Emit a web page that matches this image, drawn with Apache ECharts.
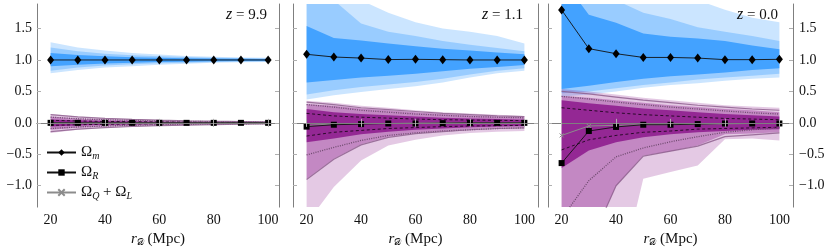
<!DOCTYPE html>
<html>
<head>
<meta charset="utf-8">
<script src="https://cdn.jsdelivr.net/npm/echarts@6/dist/echarts.min.js"></script>
<style>html,body{margin:0;padding:0;background:#fff}#c{width:830px;height:252px}</style>
</head>
<body>
<div id="c"></div>
<script>
// ---------- data ----------
const rD = [20, 30, 40, 50, 60, 70, 80, 90, 100];
const xTicks = [20, 40, 60, 80, 100];
const yTicks = [-1.0, -0.5, 0.0, 0.5, 1.0, 1.5];
const zLabels = ['9.9', '1.1', '0.0'];

// panel z = 9.9
const a_Om   = [1.0, 1.0, 1.0, 1.0, 1.0, 1.0, 1.0, 1.0, 1.0];
const a_OR   = [0.0, 0.0, 0.0, 0.0, 0.0, 0.0, 0.0, 0.0, 0.0];
const a_OQL  = [0.0, 0.0, 0.0, 0.0, 0.0, 0.0, 0.0, 0.0, 0.0];
const a_m3hi = [1.28, 1.20, 1.15, 1.11, 1.085, 1.065, 1.05, 1.04, 1.035];
const a_m3lo = [0.79, 0.84, 0.88, 0.90, 0.925, 0.94, 0.955, 0.962, 0.968];
const a_m2hi = [1.20, 1.14, 1.10, 1.075, 1.058, 1.046, 1.036, 1.03, 1.025];
const a_m2lo = [0.83, 0.88, 0.91, 0.93, 0.947, 0.957, 0.966, 0.972, 0.977];
const a_m1hi = [1.11, 1.08, 1.06, 1.045, 1.035, 1.028, 1.022, 1.018, 1.015];
const a_m1lo = [0.90, 0.925, 0.945, 0.957, 0.966, 0.973, 0.978, 0.982, 0.985];
const a_R3hi = [0.14, 0.10, 0.075, 0.06, 0.045, 0.035, 0.028, 0.022, 0.018];
const a_R3lo = [-0.16, -0.11, -0.08, -0.062, -0.047, -0.037, -0.03, -0.024, -0.02];
const a_R2hi = [0.10, 0.07, 0.053, 0.042, 0.032, 0.025, 0.02, 0.016, 0.013];
const a_R2lo = [-0.11, -0.078, -0.057, -0.045, -0.034, -0.027, -0.021, -0.017, -0.014];
const a_R1hi = [0.055, 0.04, 0.03, 0.024, 0.018, 0.014, 0.011, 0.009, 0.007];
const a_R1lo = [-0.06, -0.042, -0.032, -0.025, -0.019, -0.015, -0.012, -0.01, -0.008];
const a_Q1hi = [0.04, 0.03, 0.022, 0.018, 0.014, 0.011, 0.009, 0.007, 0.006];
const a_Q1lo = [-0.04, -0.03, -0.022, -0.018, -0.014, -0.011, -0.009, -0.007, -0.006];
const a_Q2hi = [0.09, 0.065, 0.05, 0.04, 0.03, 0.024, 0.019, 0.015, 0.012];
const a_Q2lo = [-0.09, -0.065, -0.05, -0.04, -0.03, -0.024, -0.019, -0.015, -0.012];
const a_Q3hi = [0.13, 0.095, 0.07, 0.055, 0.042, 0.033, 0.026, 0.02, 0.016];
const a_Q3lo = [-0.14, -0.1, -0.075, -0.058, -0.044, -0.035, -0.028, -0.022, -0.018];

// panel z = 1.1
const b_Om   = [1.09, 1.047, 1.03, 1.006, 1.01, 1.005, 1.0, 1.0, 1.0];
const b_OR   = [-0.06, -0.03, -0.02, -0.01, -0.01, -0.005, 0.0, 0.0, 0.0];
const b_OQL  = [-0.04, -0.02, -0.01, -0.01, -0.005, 0.0, 0.0, 0.0, 0.0];
const b_m3hi = [1.95, 1.95, 1.95, 1.75, 1.60, 1.50, 1.45, 1.38, 1.26];
const b_m3lo = [0.37, 0.44, 0.49, 0.54, 0.58, 0.64, 0.72, 0.79, 0.83];
const b_m2hi = [1.95, 1.95, 1.58, 1.45, 1.38, 1.30, 1.24, 1.19, 1.14];
const b_m2lo = [0.45, 0.52, 0.57, 0.61, 0.65, 0.70, 0.77, 0.83, 0.87];
const b_m1hi = [1.54, 1.35, 1.31, 1.26, 1.22, 1.18, 1.15, 1.12, 1.09];
const b_m1lo = [0.64, 0.68, 0.72, 0.75, 0.78, 0.82, 0.86, 0.89, 0.92];
const b_R3hi = [0.35, 0.32, 0.27, 0.24, 0.20, 0.17, 0.15, 0.13, 0.11];
const b_R3lo = [-1.6, -1.02, -0.60, -0.36, -0.27, -0.20, -0.16, -0.14, -0.13];
const b_R2hi = [0.30, 0.27, 0.23, 0.20, 0.17, 0.14, 0.12, 0.10, 0.09];
const b_R2lo = [-0.89, -0.57, -0.34, -0.22, -0.16, -0.13, -0.10, -0.08, -0.07];
const b_R1hi = [0.22, 0.17, 0.14, 0.12, 0.10, 0.08, 0.07, 0.06, 0.05];
const b_R1lo = [-0.31, -0.25, -0.18, -0.14, -0.11, -0.09, -0.07, -0.06, -0.05];
const b_Q1hi = [0.15, 0.11, 0.09, 0.075, 0.06, 0.05, 0.045, 0.04, 0.035];
const b_Q1lo = [-0.21, -0.15, -0.12, -0.09, -0.075, -0.06, -0.05, -0.045, -0.04];
const b_Q2hi = [0.29, 0.25, 0.20, 0.17, 0.14, 0.12, 0.10, 0.09, 0.08];
const b_Q2lo = [-0.51, -0.39, -0.28, -0.20, -0.16, -0.13, -0.11, -0.09, -0.08];
const b_Q3hi = [0.33, 0.29, 0.24, 0.21, 0.18, 0.15, 0.13, 0.11, 0.10];
const b_Q3lo = [-0.90, -0.58, -0.35, -0.23, -0.17, -0.14, -0.11, -0.09, -0.08];

// panel z = 0.0
const c_Om   = [1.795, 1.18, 1.10, 1.04, 1.04, 1.03, 1.005, 1.005, 1.01];
const c_OR   = [-0.64, -0.13, -0.065, -0.03, -0.03, -0.02, -0.01, -0.01, -0.01];
const c_OQL  = [-0.20, -0.05, -0.04, -0.03, -0.03, -0.02, -0.015, -0.01, -0.01];
const c_m3hi = [2.5, 2.5, 2.5, 2.3, 2.1, 1.95, 1.80, 1.67, 1.60];
const c_m3lo = [0.42, 0.45, 0.50, 0.56, 0.60, 0.63, 0.67, 0.70, 0.72];
const c_m2hi = [2.5, 2.3, 1.95, 1.75, 1.65, 1.52, 1.45, 1.38, 1.30];
const c_m2lo = [0.47, 0.50, 0.55, 0.60, 0.64, 0.69, 0.72, 0.75, 0.78];
const c_m1hi = [2.3, 1.72, 1.59, 1.42, 1.37, 1.34, 1.30, 1.23, 1.17];
const c_m1lo = [0.54, 0.59, 0.65, 0.70, 0.74, 0.77, 0.80, 0.84, 0.87];
const c_R3hi = [0.54, 0.50, 0.45, 0.40, 0.36, 0.32, 0.28, 0.26, 0.24];
const c_R3lo = [-3.0, -2.9, -2.7, -0.89, -0.78, -0.68, -0.26, -0.25, -0.28];
const c_R2hi = [0.43, 0.40, 0.36, 0.32, 0.28, 0.25, 0.22, 0.20, 0.17];
const c_R2lo = [-3.0, -1.97, -1.0, -0.52, -0.45, -0.36, -0.18, -0.17, -0.15];
const c_R1hi = [0.36, 0.31, 0.27, 0.23, 0.20, 0.17, 0.14, 0.12, 0.10];
const c_R1lo = [-0.72, -0.44, -0.31, -0.23, -0.18, -0.15, -0.13, -0.11, -0.10];
const c_Q1hi = [0.24, 0.20, 0.16, 0.13, 0.11, 0.09, 0.07, 0.06, 0.05];
const c_Q1lo = [-0.43, -0.27, -0.20, -0.15, -0.13, -0.10, -0.09, -0.08, -0.07];
const c_Q2hi = [0.42, 0.38, 0.33, 0.29, 0.25, 0.22, 0.19, 0.16, 0.14];
const c_Q2lo = [-1.52, -0.92, -0.54, -0.40, -0.30, -0.22, -0.15, -0.11, -0.08];
const c_Q3hi = [0.50, 0.46, 0.41, 0.36, 0.32, 0.28, 0.25, 0.22, 0.20];
const c_Q3lo = [-3.0, -1.97, -1.0, -0.53, -0.45, -0.37, -0.22, -0.19, -0.16];

// ---------- styling ----------
const FONT = 'Liberation Serif';
const panels = [
  {left: 37, width: 242, xmax: 104, zl: zLabels[0], zr: 563,
   Om: a_Om, OR: a_OR, OQL: a_OQL,
   m: [[a_m3lo, a_m3hi], [a_m2lo, a_m2hi], [a_m1lo, a_m1hi]],
   R: [[a_R3lo, a_R3hi], [a_R2lo, a_R2hi], [a_R1lo, a_R1hi]],
   Q: [[a_Q1lo, a_Q1hi], [a_Q2lo, a_Q2hi], [a_Q3lo, a_Q3hi]]},
  {left: 293, width: 245, xmax: 105, zl: zLabels[1], zr: 307,
   Om: b_Om, OR: b_OR, OQL: b_OQL,
   m: [[b_m3lo, b_m3hi], [b_m2lo, b_m2hi], [b_m1lo, b_m1hi]],
   R: [[b_R3lo, b_R3hi], [b_R2lo, b_R2hi], [b_R1lo, b_R1hi]],
   Q: [[b_Q1lo, b_Q1hi], [b_Q2lo, b_Q2hi], [b_Q3lo, b_Q3hi]]},
  {left: 548, width: 245, xmax: 105, zl: zLabels[2], zr: 52,
   Om: c_Om, OR: c_OR, OQL: c_OQL,
   m: [[c_m3lo, c_m3hi], [c_m2lo, c_m2hi], [c_m1lo, c_m1hi]],
   R: [[c_R3lo, c_R3hi], [c_R2lo, c_R2hi], [c_R1lo, c_R1hi]],
   Q: [[c_Q1lo, c_Q1hi], [c_Q2lo, c_Q2hi], [c_Q3lo, c_Q3hi]]}
];
const blueCols = ['rgba(30,144,255,0.23)', 'rgba(30,144,255,0.29)', 'rgba(30,144,255,0.70)'];
const purpCols = ['rgba(128,0,128,0.21)', 'rgba(128,0,128,0.32)', 'rgba(128,0,128,0.70)'];
const YMIN = -1.34, YMAX = 1.89;

const fmtY = v => (v < 0 ? '\u2212' : '') + Math.abs(v).toFixed(1);

const grids = [], xAxes = [], yAxes = [], series = [], titles = [];
const axLine = {show: true, lineStyle: {color: '#7f7f7f', width: 1}};
const tickSt = {show: true, inside: true, length: 4, lineStyle: {color: '#b0b0b0', width: 1}};

// band polygon drawn from the data via the coordinate system
function bandRender(params, api) {
  if (params.dataIndexInside !== 0) return null;
  const n = params.dataInsideLength;
  const top = [], bot = [];
  for (let j = 0; j < n; j++) {
    const x = api.value(0, j);
    top.push(api.coord([x, api.value(2, j)]));
    bot.push(api.coord([x, api.value(1, j)]));
  }
  const cs = params.coordSys;
  return {
    type: 'polygon',
    shape: {points: top.concat(bot.reverse())},
    style: {fill: api.visual('color')},
    clipPath: {type: 'rect', shape: {x: cs.x, y: cs.y, width: cs.width, height: cs.height}},
    silent: true
  };
}

panels.forEach((p, g) => {
  grids.push({left: p.left, top: 4, width: p.width, height: 205});
  const xi = g * 2, yi = g * 2;
  xAxes.push({
    gridIndex: g, type: 'value', min: 15, max: p.xmax, position: 'bottom', z: 10,
    axisLine: axLine, splitLine: {show: false},
    axisTick: Object.assign({customValues: xTicks}, tickSt),
    axisLabel: {customValues: xTicks, margin: 6, fontFamily: FONT, fontSize: 14, color: '#111'},
    name: '{r|r}{d|\uD835\uDC9F}{t| (Mpc)}', nameLocation: 'middle', nameGap: 24,
    nameTextStyle: {fontFamily: FONT, fontSize: 15, color: '#111', rich: {
      r: {fontFamily: FONT, fontSize: 15, fontStyle: 'italic', color: '#111'},
      d: {fontFamily: 'DejaVu Sans', fontSize: 9, color: '#111', padding: [6, 0, 0, 0]},
      t: {fontFamily: FONT, fontSize: 15, color: '#111'}
    }}
  });
  xAxes.push({
    gridIndex: g, type: 'value', min: 15, max: p.xmax, position: 'top', z: 10,
    axisLine: axLine, splitLine: {show: false},
    axisTick: Object.assign({customValues: xTicks}, tickSt),
    axisLabel: {show: false, customValues: xTicks}
  });
  yAxes.push({
    gridIndex: g, type: 'value', min: YMIN, max: YMAX, position: 'left', z: 10,
    axisLine: axLine, splitLine: {show: false},
    axisTick: Object.assign({customValues: yTicks}, tickSt),
    axisLabel: {show: g === 0, customValues: yTicks, formatter: fmtY, margin: 5,
      fontFamily: FONT, fontSize: 14, color: '#111'}
  });
  yAxes.push({
    gridIndex: g, type: 'value', min: YMIN, max: YMAX, position: 'right', z: 10,
    axisLine: axLine, splitLine: {show: false},
    axisTick: Object.assign({customValues: yTicks}, tickSt),
    axisLabel: {show: g === 2, customValues: yTicks, formatter: fmtY, margin: 6,
      fontFamily: FONT, fontSize: 14, color: '#111'}
  });

  const band = (id, lo, hi, color) => series.push({
    type: 'custom', name: id, xAxisIndex: xi, yAxisIndex: yi, silent: true, animation: false,
    renderItem: bandRender, itemStyle: {color: color},
    encode: {x: 0, y: [1, 2]},
    data: rD.map((x, i) => [x, lo[i], hi[i]])
  });
  p.m.forEach((b, k) => band('m' + g + k, b[0], b[1], blueCols[k]));
  p.R.forEach((b, k) => band('R' + g + k, b[0], b[1], purpCols[k]));

  const qline = (id, arr, style) => series.push({
    type: 'line', name: id, xAxisIndex: xi, yAxisIndex: yi, symbol: 'none', silent: true,
    animation: false, clip: true, data: rD.map((x, i) => [x, arr[i]]), lineStyle: style
  });
  const qStyles = [
    {color: '#2a0a2a', width: 1, type: [3, 2.5]},
    {color: '#6e4a6e', width: 1.3, type: [1, 1.3]},
    {color: '#8a5a8a', width: 1.2, type: 'solid', opacity: 0.8}
  ];
  p.Q.forEach((b, k) => { qline('q' + g + k + 'lo', b[0], qStyles[k]); qline('q' + g + k + 'hi', b[1], qStyles[k]); });

  const suf = g === 0 ? '' : '_' + g;
  series.push({type: 'line', name: '\u03A9Q+\u03A9L' + suf, xAxisIndex: xi, yAxisIndex: yi, animation: false,
    data: rD.map((x, i) => [x, p.OQL[i]]), symbol: 'path://M0,0L10,10M10,0L0,10', symbolSize: 4,
    lineStyle: {color: '#8c8c8c', width: 1}, itemStyle: {color: 'rgba(0,0,0,0)', borderColor: '#8c8c8c', borderWidth: 1}});
  series.push({type: 'line', name: '\u03A9R' + suf, xAxisIndex: xi, yAxisIndex: yi, animation: false,
    data: rD.map((x, i) => [x, p.OR[i]]), symbol: 'rect', symbolSize: 6,
    lineStyle: {color: '#111', width: 0.9}, itemStyle: {color: '#000'}});
  series.push({type: 'line', name: '\u03A9m' + suf, xAxisIndex: xi, yAxisIndex: yi, animation: false,
    data: rD.map((x, i) => [x, p.Om[i]]), symbol: 'diamond', symbolSize: [7, 9],
    lineStyle: {color: '#111', width: 0.9}, itemStyle: {color: '#000'}});

  titles.push({text: '{z|z}{e| = }{v|' + p.zl + '}', right: p.zr, top: 7, padding: 0,
    textStyle: {fontWeight: 'normal', rich: {
      z: {fontFamily: FONT, fontSize: 16, fontStyle: 'italic', fontWeight: 'normal', color: '#111'},
      e: {fontFamily: FONT, fontSize: 15, fontWeight: 'normal', color: '#111'},
      v: {fontFamily: FONT, fontSize: 15, fontWeight: 'normal', color: '#111'}
    }}});
});

const legendNames = {
  '\u03A9m': '{o|\u03A9}{s|m}',
  '\u03A9R': '{o|\u03A9}{s|R}',
  '\u03A9Q+\u03A9L': '{o|\u03A9}{s|Q}{o| + \u03A9}{s|L}'
};

const option = {
  animation: false,
  backgroundColor: '#fff',
  title: titles,
  grid: grids,
  xAxis: xAxes,
  yAxis: yAxes,
  legend: {
    data: ['\u03A9m', '\u03A9R', '\u03A9Q+\u03A9L'],
    orient: 'vertical', left: 46, top: 144, itemWidth: 29, itemHeight: 8, itemGap: 3,
    selectedMode: false, padding: 0,
    formatter: n => legendNames[n],
    textStyle: {fontFamily: FONT, fontSize: 15, color: '#111', rich: {
      o: {fontFamily: FONT, fontSize: 15, color: '#111', lineHeight: 17},
      s: {fontFamily: FONT, fontSize: 10, fontStyle: 'italic', color: '#111', padding: [7, 0, 0, 0], lineHeight: 17}
    }}
  },
  series: series
};

const chart = echarts.init(document.getElementById('c'), null, {renderer: 'canvas'});
chart.setOption(option);
</script>
</body>
</html>
